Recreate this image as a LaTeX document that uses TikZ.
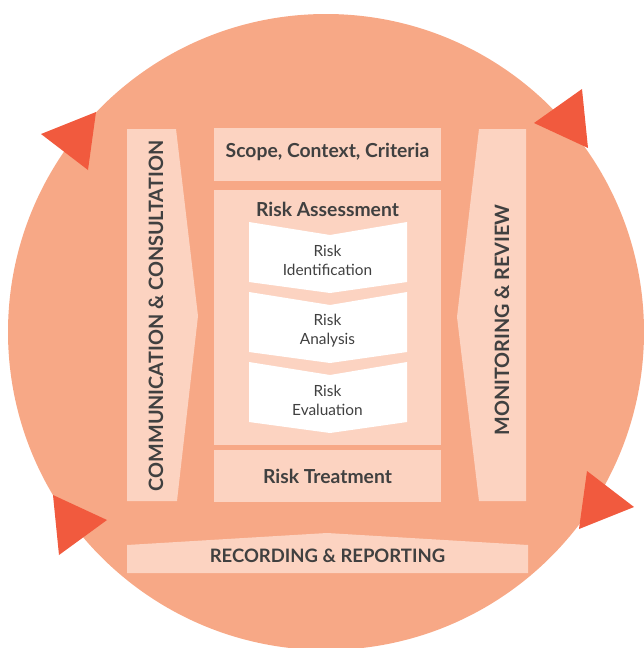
\documentclass[tikz,border=0pt]{standalone}
\usepackage{fontspec}
\setmainfont{Lato}
\definecolor{ring}{HTML}{F7A886}
\definecolor{pale}{HTML}{FCD3C1}
\definecolor{tri}{HTML}{F15A3E}
\definecolor{ink}{HTML}{404040}
\tikzset{
  boldlabel/.style={text=ink, font=\bfseries\fontsize{19.3}{22}\selectfont, inner sep=0pt},
  sidelabel/.style={text=ink, font=\bfseries\fontsize{19.8}{22}\selectfont, inner sep=0pt, rotate=90},
  steplabel/.style={text=ink, font=\fontsize{15.4}{18.8}\selectfont, align=center, inner sep=0pt},
  palefill/.style={fill=pale},
  trifill/.style={fill=tri},
}
\begin{document}
\begin{tikzpicture}[x=1pt,y=-1pt]
\useasboundingbox (0,0) rectangle (643,648);
% ring
\fill[ring] (326,332) circle (318pt);
% arrow heads on the ring
\fill[trifill] (41,134) -- (96,112) -- (88,170) -- cycle;
\fill[trifill] (534,123) -- (582,89) -- (588,148) -- cycle;
\fill[trifill] (53,495) -- (107,520) -- (59,555) -- cycle;
\fill[trifill] (587,471) -- (634,507) -- (579,529) -- cycle;
% side bars
\fill[palefill] (127,129) -- (176,129) -- (198,316) -- (177,501) -- (127,501) -- cycle;
\fill[palefill] (479,129) -- (526,129) -- (526,501) -- (479,501) -- (457,317) -- cycle;
% boxes
\fill[palefill] (214,128) rectangle (441,181);
\fill[palefill] (214,190) rectangle (441,445);
\fill[palefill] (214,450) rectangle (441,502);
\fill[palefill] (127,545) -- (327,533) -- (528,545) -- (528,573) -- (127,573) -- cycle;
% chevrons
\foreach \t in {222,292,362}{
  \fill[white] (249,\t) -- (330,\t+13) -- (407,\t) -- (407,\t+60) -- (330,\t+71) -- (249,\t+60) -- cycle;
}
% labels
\node[sidelabel] (comm) at (156,316) {COMMUNICATION \& CONSULTATION};
\node[sidelabel] (mon) at (502,320) {MONITORING \& REVIEW};
\node[boldlabel] (scope) at (327.5,152) {Scope, Context, Criteria};
\node[boldlabel] (assess) at (327.5,209) {Risk Assessment};
\node[steplabel] (ident) at (327.5,260) {Risk\\Identification};
\node[steplabel] (anal) at (327.5,331) {Risk\\Analysis};
\node[steplabel] (eval) at (327.5,400) {Risk\\Evaluation};
\node[boldlabel] (treat) at (327.5,476) {Risk Treatment};
\node[boldlabel, font=\bfseries\fontsize{18.5}{22}\selectfont] (rec) at (327.5,556) {RECORDING \& REPORTING};
\end{tikzpicture}
\end{document}
